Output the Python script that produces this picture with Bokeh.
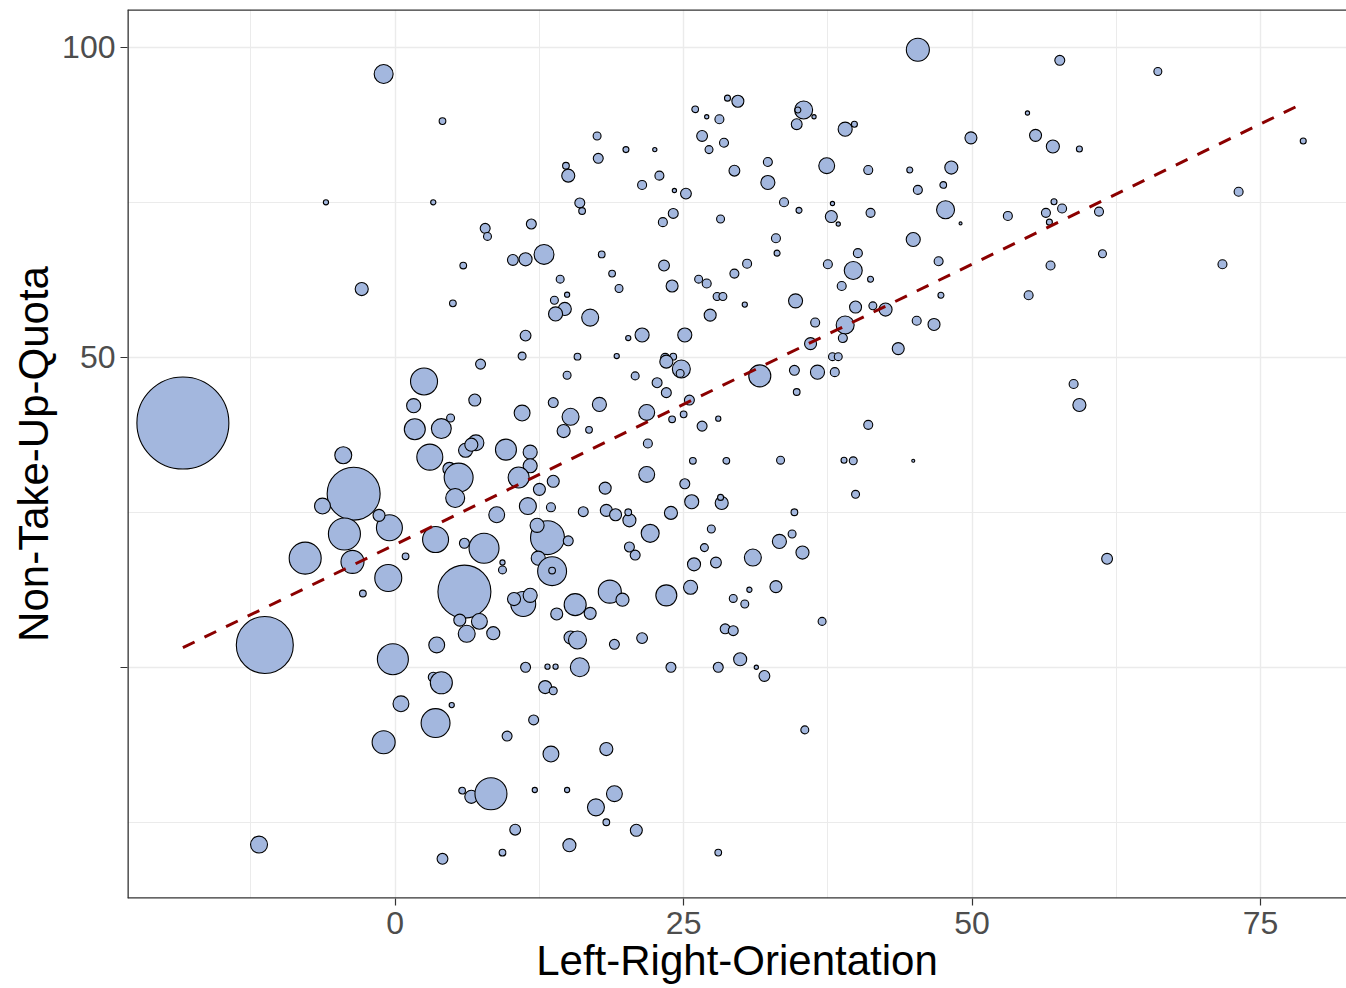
import numpy as np
from bokeh.plotting import figure
from bokeh.models import FixedTicker, Range1d, ColumnDataSource, Span
from bokeh.embed import file_html
from bokeh.resources import INLINE

# Left-Right-Orientation (x), Non-Take-Up-Quota (y), weight (bubble size)
left_right = [
    -1.0, 4.1, 17.5, 17.6, 14.8, 15.0, -6.0, 3.3, 16.0, 16.2,
    7.8, 8.0, 11.8, 12.9, 10.2, 11.3, 17.9, 5.9, -2.9, 18.8,
    19.4, 14.3, 14.9, 13.8, 5.0, 14.7, 13.9, 16.9, 30.3, 27.3,
    11.3, 20.2, 21.4, 25.1, 11.0, 15.8, 19.2, 23.4, 24.1, 23.5,
    24.8, 24.7, 20.8, 14.9, 7.4, 31.6, 34.6, 34.8, 2.5, 1.6,
    6.9, 11.0, 13.7, 17.7, 15.2, 14.6, 16.8, 22.7, 23.5, 21.8,
    25.5, 24.0, 25.0, 26.6, 28.0, 1.7, 4.0, 4.8, 3.0, 6.1,
    7.0, 6.6, 9.6, 11.7, 11.7, 21.9, 25.8, 28.7, 33.4, 4.7,
    5.5, 5.2, 10.7, 13.7, 12.5, 21.8, 25.1, 18.2, 8.8, 11.5,
    13.5, 16.3, 18.3, 19.1, 20.3, 20.2, 23.9, 25.7, 28.3, 28.2,
    34.6, -0.5, 3.5, 6.0, 7.7, 0.9, -0.6, 13.2, 12.3, 15.0,
    12.4, 13.6, 13.6, 9.3, 9.3, 6.0, 5.6, 7.3, 6.2, 8.5,
    3.6, -0.2, 3.3, 4.0, 11.1, 10.3, 11.7, 14.0, 15.6, 16.9,
    18.6, 19.7, 23.5, 25.6, 25.9, 20.3, 20.8, 22.1, 27.4, 26.8,
    27.8, 31.0, 33.3, 34.4, 35.3, 33.0, 29.3, 30.3, 30.7, 15.2,
    15.8, 19.0, 21.4, 28.6, 29.3, 11.3, 13.2, 13.9, 16.0, 23.9,
    28.0, 29.9, 31.3, 32.0, 13.0, 13.7, 0.5, 4.9, 3.5, 12.0,
    -1.0, 9.7, 13.5, 18.3, 5.8, 6.6, 8.3, 12.1, 14.9, 19.0,
    17.4, 18.3, 10.4, 20.9, 15.1, 4.1, 9.3, 28.0, -18.4, -4.5,
    -3.6, -6.3, -1.4, -4.4, -3.7, -7.8, -2.8, -11.3, -11.8, 45.3,
    28.8, 29.7, 26.0, 27.0, 28.1, 35.4, 34.9, 36.3, 34.8, 39.0,
    39.8, 26.6, 28.5, 27.2, 20.0, 22.5, 32.3, 37.4, 29.4, 32.3,
    41.0, 44.6, 48.2, 49.9, 55.5, 54.8, 57.0, 22.9, 21.4, 24.2,
    25.2, 45.3, 47.5, 33.7, 35.0, 37.9, 37.8, 38.4, 41.2, 47.7,
    49.0, 53.1, 56.4, 57.1, 57.8, 56.7, 61.0, 61.3, 56.8, 71.7,
    54.9, 57.6, 66.1, 78.7, 73.1, 59.3, 58.8, 59.3, 61.7, 24.1,
    23.2, 28.2, 33.0, 33.1, 44.9, 40.1, 47.1, 37.5, 39.7, 41.2,
    23.3, 24.0, 26.3, 27.0, 29.4, 30.5, 27.9, 28.4, 38.7, 47.3,
    34.7, 39.9, 41.4, 42.5, 36.4, 39.0, 38.8, 45.2, 46.7, 43.6,
    36.0, 36.6, 38.1, 37.9, 38.4, 41.0, 38.9, 39.7, 44.9, 39.9,
    37.0, 35.5,
]
non_take_up = [
    95.7, 88.1, 85.7, 82.1, 80.9, 79.3, 75.0, 75.0, 74.9, 73.6,
    70.8, 69.5, 71.5, 66.6, 65.7, 65.8, 66.6, 64.8, 61.0, 63.5,
    61.1, 62.6, 60.1, 59.2, 58.7, 57.8, 57.0, 56.4, 58.5, 56.8,
    53.5, 53.1, 53.6, 53.6, 50.2, 50.1, 50.2, 49.9, 50.1, 49.3,
    48.1, 47.4, 47.0, 47.1, 48.9, 47.0, 47.9, 44.4, 46.1, 42.2,
    43.1, 41.0, 42.7, 42.4, 40.4, 38.1, 38.3, 45.9, 44.3, 41.1,
    43.1, 40.0, 40.8, 38.9, 40.1, 38.4, 38.5, 40.2, 33.9, 35.0,
    36.2, 35.9, 35.1, 34.7, 32.5, 36.1, 33.3, 33.3, 33.4, 32.0,
    30.6, 27.3, 30.6, 30.0, 28.7, 31.1, 29.6, 28.9, 24.6, 26.0,
    25.8, 25.1, 25.3, 24.6, 23.7, 25.0, 24.9, 26.7, 26.5, 27.4,
    25.0, 22.5, 20.6, 20.0, 19.2, 17.9, 14.4, 20.9, 22.9, 20.4,
    17.6, 15.5, 15.6, 16.9, 15.7, 12.2, 7.6, 7.4, 5.4, 5.5,
    3.6, 1.3, -1.6, -2.5, 10.2, 11.0, 11.6, 8.6, 10.1, 8.7,
    12.2, 10.9, 11.6, 12.9, 16.6, 19.4, 18.1, 21.6, 22.3, 19.3,
    16.9, 17.7, 20.3, 21.5, 18.5, 13.0, 11.1, 10.2, 12.5, 4.8,
    4.4, 3.7, 4.7, 6.2, 5.9, 0.0, 0.1, 0.1, 0.0, 0.0,
    0.0, 1.3, 0.0, -1.4, -3.2, -3.8, -5.9, -6.1, -9.0, -8.5,
    -12.1, -11.1, -14.0, -13.2, -19.9, -20.9, -20.4, -19.8, -19.8, -20.4,
    -22.6, -25.0, -26.2, -26.3, -28.7, -30.9, -29.9, -29.9, 39.4, 34.2,
    28.0, 26.0, 24.5, 21.5, 17.0, 17.6, 11.9, 3.6, -28.6, 99.6,
    91.8, 91.3, 90.0, 88.8, 88.4, 89.9, 89.9, 88.8, 87.6, 86.8,
    87.6, 85.7, 84.6, 83.5, 83.5, 83.5, 81.5, 80.9, 80.1, 78.2,
    80.2, 80.2, 80.6, 85.4, 85.8, 89.4, 84.0, 79.3, 77.8, 76.9,
    76.4, 77.0, 77.8, 75.0, 73.7, 74.8, 72.7, 71.5, 73.3, 73.8,
    71.6, 72.8, 73.3, 75.1, 74.0, 71.8, 73.5, 66.7, 64.8, 65.0,
    60.0, 97.9, 96.1, 84.9, 76.7, 83.6, 45.7, 42.3, 17.5, 73.2,
    71.8, 72.3, 69.2, 66.8, 69.0, 66.8, 65.5, 65.0, 64.0, 62.6,
    64.8, 61.5, 62.6, 61.9, 63.5, 65.1, 59.8, 59.8, 61.5, 60.0,
    59.1, 58.1, 58.3, 57.7, 55.6, 55.2, 53.1, 55.9, 55.3, 51.4,
    52.2, 47.6, 47.6, 50.1, 50.1, 39.1, 33.4, 33.3, 33.3, 27.9,
    7.4, -10.1,
]
weight = [
    40, 5, 7, 11, 5, 19, 3, 3, 11, 5,
    11, 7, 11, 44, 13, 19, 5, 5, 19, 5,
    7, 7, 3, 7, 5, 19, 22, 32, 3, 16,
    13, 3, 22, 22, 7, 5, 3, 9, 5, 19,
    36, 7, 7, 7, 11, 54, 11, 5, 81, 22,
    16, 28, 11, 22, 32, 19, 5, 11, 11, 28,
    11, 5, 5, 11, 3, 49, 44, 7, 75, 22,
    28, 19, 49, 22, 22, 9, 5, 5, 7, 19,
    93, 40, 49, 16, 16, 28, 11, 16, 28, 32,
    9, 11, 16, 16, 19, 5, 19, 22, 19, 4,
    5, 75, 75, 11, 100, 5, 81, 128, 22, 11,
    22, 93, 5, 3, 7, 312, 16, 28, 32, 19,
    28, 107, 11, 54, 69, 19, 22, 16, 54, 16,
    59, 19, 49, 22, 19, 11, 11, 36, 7, 7,
    13, 32, 22, 7, 19, 16, 7, 7, 3, 19,
    36, 11, 13, 11, 11, 11, 3, 3, 40, 11,
    11, 19, 2, 13, 19, 7, 28, 3, 93, 11,
    59, 11, 28, 19, 5, 19, 114, 3, 3, 28,
    32, 5, 13, 16, 19, 13, 5, 5, 940, 32,
    312, 28, 16, 114, 59, 114, 5, 361, 32, 59,
    4, 16, 5, 2, 9, 36, 4, 2, 13, 22,
    4, 13, 9, 7, 4, 2, 9, 28, 13, 22,
    9, 4, 19, 16, 16, 2, 19, 9, 9, 2,
    13, 9, 5, 9, 4, 2, 16, 2, 9, 36,
    1, 9, 9, 4, 9, 4, 9, 7, 9, 9,
    9, 11, 7, 4, 9, 4, 9, 19, 13, 11,
    9, 7, 9, 4, 22, 9, 9, 9, 36, 4,
    13, 16, 7, 9, 9, 9, 7, 7, 9, 4,
    22, 16, 7, 19, 9, 36, 9, 9, 16, 16,
    16, 22, 9, 7, 7, 9, 4, 7, 1, 7,
    7, 7,
]

# linear fit
fit_intercept = 19.8
fit_slope = 0.9045

x_ticks = [0, 25, 50, 75]
x_minor = [-12.5, 12.5, 37.5, 62.5]
y_ticks = [0, 50, 100]
y_minor = [-25, 25, 75]
y_tick_labels = {0: "", 50: "50", 100: "100"}

x_lo, x_hi = -23.2, 82.45
y_lo, y_hi = -37.3, 106.1

diam = [3.0 * np.sqrt(w) for w in weight]
src = ColumnDataSource(data=dict(x=left_right, y=non_take_up, d=diam))

p = figure(width=1346, height=988, output_backend="svg", toolbar_location=None,
           x_range=Range1d(x_lo, x_hi), y_range=Range1d(y_lo, y_hi),
           min_border_left=127, min_border_right=0, min_border_top=9,
           min_border_bottom=90)
p.background_fill_color = "white"
p.border_fill_color = "white"
p.outline_line_color = None

fx = np.array([min(left_right), max(left_right)])
fy = fit_intercept + fit_slope * fx

p.scatter("x", "y", size="d", source=src, marker="circle",
          fill_color="#A3B7DE", line_color="black", line_width=1.1)
p.line(fx, fy, line_color="#8B0000", line_width=3, line_dash="13 11")

# panel border (left, top, bottom; the right side lies beyond the picture)
for loc, dim in ((x_lo, "height"), (y_hi, "width"), (y_lo, "width")):
    p.add_layout(Span(location=loc, dimension=dim, line_color="#333333",
                      line_width=2.6))

p.xaxis.ticker = FixedTicker(ticks=x_ticks, minor_ticks=x_minor)
p.yaxis.ticker = FixedTicker(ticks=y_ticks, minor_ticks=y_minor)
p.yaxis.major_label_overrides = y_tick_labels

for ax in (p.xaxis[0], p.yaxis[0]):
    ax.axis_line_color = None
    ax.major_tick_line_color = "#333333"
    ax.major_tick_line_width = 1.2
    ax.major_tick_in = 0
    ax.major_tick_out = 7
    ax.minor_tick_in = 0
    ax.minor_tick_out = 0
    ax.major_label_text_font = "Liberation Sans"
    ax.major_label_text_font_size = "32px"
    ax.major_label_text_color = "#4D4D4D"
    ax.axis_label_text_font = "Liberation Sans"
    ax.axis_label_text_font_size = "42px"
    ax.axis_label_text_font_style = "normal"
    ax.axis_label_text_color = "black"

p.xaxis.axis_label = "Left-Right-Orientation"
p.yaxis.axis_label = "Non-Take-Up-Quota"
p.xaxis.major_label_standoff = 6
p.xaxis.axis_label_standoff = 0
p.yaxis.major_label_standoff = 5
p.yaxis.axis_label_standoff = 2

for g in (p.xgrid[0], p.ygrid[0]):
    g.grid_line_color = "#EBEBEB"
    g.grid_line_width = 1.4
    g.minor_grid_line_color = "#EBEBEB"
    g.minor_grid_line_width = 1.0

open("out.html", "w").write(file_html(p, INLINE))
